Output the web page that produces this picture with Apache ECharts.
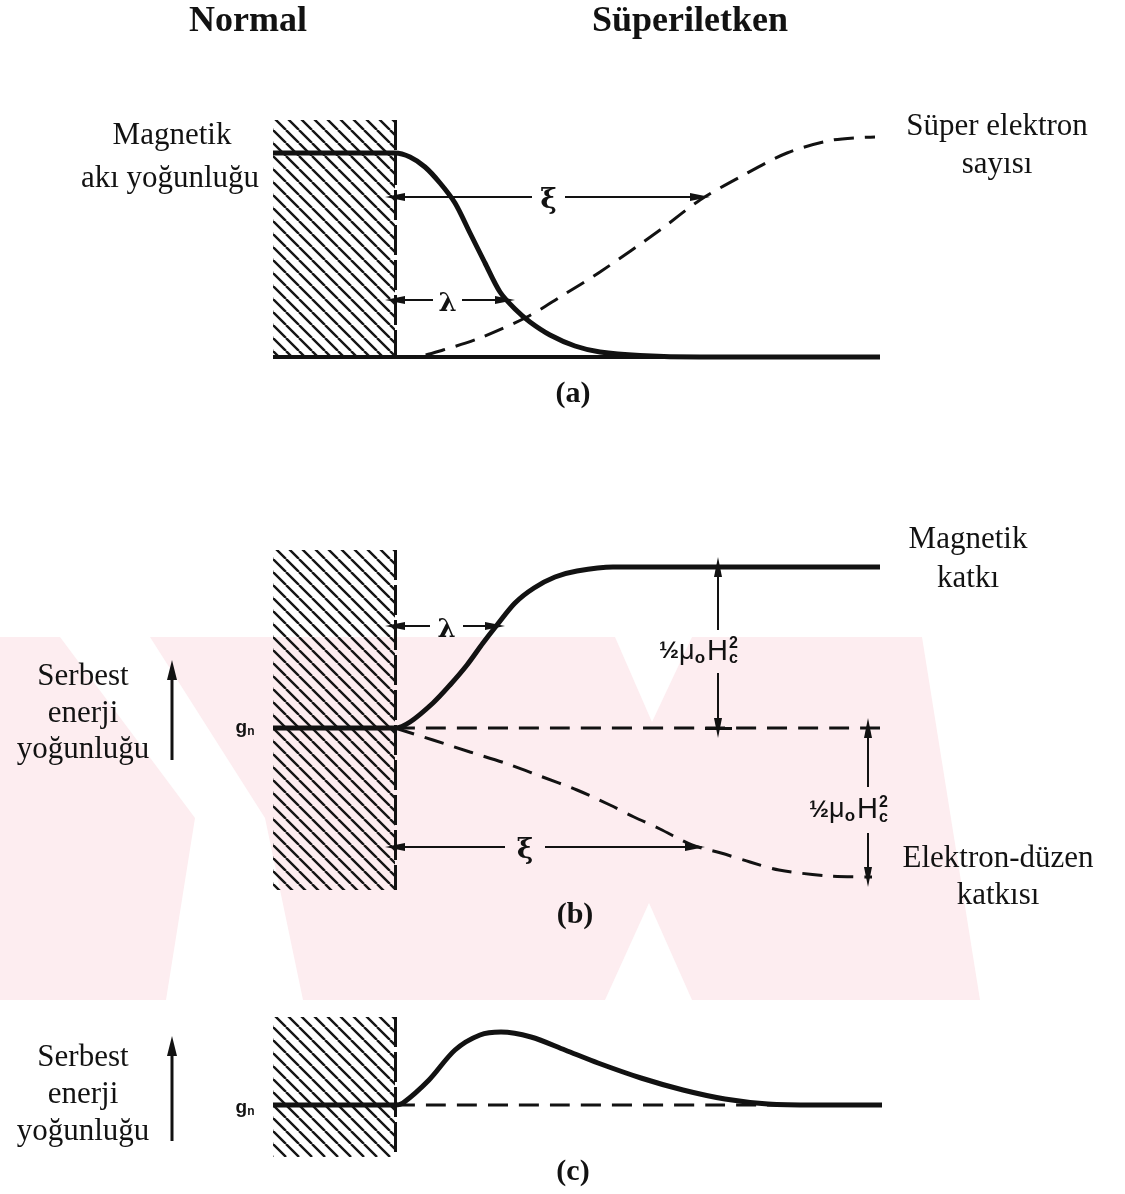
<!DOCTYPE html>
<html><head><meta charset="utf-8">
<script src="https://cdn.jsdelivr.net/npm/echarts@6/dist/echarts.min.js"></script>
<style>html,body{margin:0;padding:0;background:#fff}#c{width:1125px;height:1194px}</style>
</head><body><div id="c"></div>
<script>
// ---------- DATA (x: distance from the N/S interface, y: quantity, arbitrary units) ----------
// panel (a)
const fluxX  = [-1.22, 0, 0.15, 0.30, 0.45, 0.60, 0.75, 0.90, 1.05, 1.20, 1.35, 1.55, 1.80, 2.05, 2.45, 3.05, 4.85];
const fluxY  = [2.04, 2.04, 2.00, 1.90, 1.74, 1.54, 1.24, 0.94, 0.65, 0.48, 0.35, 0.22, 0.11, 0.05, 0.015, 0, 0];
const superX = [0, 0.25, 0.48, 0.85, 1.32, 1.65, 2.05, 2.65, 3.05, 3.45, 3.92, 4.38, 4.80];
const superY = [0, 0.01, 0.07, 0.19, 0.40, 0.60, 0.85, 1.27, 1.57, 1.80, 2.04, 2.17, 2.20];
// panel (b)
const magX = [-1.22, 0, 0.15, 0.38, 0.55, 0.72, 0.88, 1.02, 1.20, 1.39, 1.60, 1.82, 2.18, 4.85];
const magY = [0, 0, 0.06, 0.25, 0.43, 0.63, 0.85, 1.03, 1.25, 1.40, 1.51, 1.57, 1.61, 1.61];
const elX  = [0, 0.38, 0.75, 1.10, 1.45, 1.82, 2.15, 2.39, 2.65, 2.97, 3.26, 3.55, 3.84, 4.34, 4.77];
const elY  = [0, -0.12, -0.24, -0.35, -0.48, -0.62, -0.77, -0.89, -1.01, -1.17, -1.25, -1.34, -1.42, -1.48, -1.49];
// panel (c)
const totX = [-1.22, 0, 0.08, 0.34, 0.60, 0.85, 1.06, 1.36, 1.70, 2.03, 2.46, 2.88, 3.30, 3.73, 4.20, 4.87];
const totY = [0, 0, 0.02, 0.25, 0.55, 0.70, 0.73, 0.68, 0.55, 0.42, 0.27, 0.15, 0.06, 0.01, 0, 0];
// normal-metal region extent [xLeft, xInterface, yTop, yBottom] per panel
const normalA = [-1.22, 0, 2.37, 0];
const normalB = [-1.22, 0, 1.78, -1.62];
const normalC = [-1.22, 0, 0.88, -0.52];
// length markers: [y, xEnd, gapStart, gapEnd]
const xiA     = [1.60, 3.05, 1.37, 1.70];
const lambdaA = [0.57, 1.10, 0.38, 0.67];
const lambdaB = [1.02, 1.00, 0.35, 0.68];
const xiB     = [-1.19, 3.00, 1.10, 1.50];
// energy gap markers: [x, yFrom, yTo, gapHigh, gapLow]
const hcTop = [3.23, 1.61, 0, 0.98, 0.55];
const hcBot = [4.73, 0, -1.49, -0.59, -1.05];
const xMin = -1.22, xMax = 4.85;

// ---------- helpers ----------
const zip = (a, b) => a.map((v, i) => [v, b[i]]);
function hatchPattern() {
  const s = 13, c = document.createElement('canvas'); c.width = s; c.height = s;
  const g = c.getContext('2d'); g.strokeStyle = '#151515'; g.lineWidth = 2.4;
  g.beginPath();
  for (const o of [-s, 0, s]) { g.moveTo(o, 0); g.lineTo(o + s, s); }
  g.stroke(); return c;
}
const HATCH = { image: hatchPattern(), repeat: 'repeat' };
const INK = '#121212';
const thin = { color: INK, width: 2, type: 'solid' };
const thick3 = { color: INK, width: 3, type: 'solid' };
function seg(x1, y1, x2, y2, s1, s2, st) {
  return [{ coord: [x1, y1], symbol: s1, lineStyle: st || thin }, { coord: [x2, y2], symbol: s2 }];
}
function hArrow(m) {
  return [seg(0, m[0], m[2], m[0], 'triangle', 'none'), seg(m[3], m[0], m[1], m[0], 'none', 'triangle')];
}
function vArrow(m) {
  const hi = Math.max(m[1], m[2]), lo = Math.min(m[1], m[2]);
  return [seg(m[0], m[3], m[0], hi, 'none', 'triangle'), seg(m[0], m[4], m[0], lo, 'none', 'triangle')];
}
function interface_(n) {
  return seg(n[1], n[2], n[1], n[3], 'none', 'none', { color: INK, width: 3, type: [30, 5] });
}
function helper(i, n, lines) {
  return {
    type: 'line', xAxisIndex: i, yAxisIndex: i, data: [], silent: true, clip: false,
    markArea: { silent: true, itemStyle: { color: HATCH, borderWidth: 0 },
      data: [[{ coord: [n[0], n[2]] }, { coord: [n[1], n[3]] }]] },
    markLine: { silent: true, animation: false, symbolSize: [8, 20], label: { show: false },
      data: [interface_(n)].concat(lines) }
  };
}
function curve(i, data, dashed, width) {
  return { type: 'line', xAxisIndex: i, yAxisIndex: i, data, showSymbol: false, symbol: 'none',
    smooth: 0.3, clip: false, silent: true, z: 3,
    lineStyle: { color: INK, width: width, type: dashed ? [20, 11] : 'solid', cap: 'butt' } };
}
const plain = { textBorderWidth: 0, textShadowBlur: 0, color: INK, opacity: 1 };
const greek = (v, txt, size) => ({ value: v, label: Object.assign({ show: true, position: 'inside', formatter: txt,
  fontFamily: 'DejaVu Serif', fontWeight: 'bold', fontSize: size, offset: [0, 4] }, plain) });
const richBase = { color: INK, textBorderWidth: 0, lineHeight: 30, fontFamily: 'Liberation Sans' };
const hcLabel = (x, y) => ([
  { value: [x, y], label: Object.assign({ show: true, position: 'inside', align: 'right', offset: [10, 0],
    formatter: '{fr|½}{mu|μ}{sb|o}{hh|H}',
    rich: { fr: Object.assign({ fontSize: 24, fontWeight: 'bold' }, richBase),
            mu: Object.assign({ fontSize: 27 }, richBase),
            sb: Object.assign({ fontSize: 17, fontWeight: 'bold', verticalAlign: 'bottom', padding: [0, 2, 0, 0] }, richBase),
            hh: Object.assign({ fontSize: 29 }, richBase) } }, plain) },
  { value: [x, y], label: Object.assign({ show: true, position: 'inside', align: 'left', offset: [11, 0],
    formatter: '2\nc', fontSize: 16, fontWeight: 'bold', fontFamily: 'Liberation Sans', lineHeight: 15 }, plain) }
]);
const labels = (i, data) => ({ type: 'scatter', xAxisIndex: i, yAxisIndex: i, symbolSize: 0, silent: true, z: 5,
  itemStyle: { opacity: 1, color: INK }, data });

// ---------- layout ----------
const grids = [
  { left: 273, top: 117, width: 607, height: 240 },
  { left: 273, top: 548, width: 607, height: 350 },
  { left: 273, top: 1005, width: 607, height: 160 }
];
const yRanges = [[0, 2.4], [-1.7, 1.8], [-0.6, 1.0]];

// ---------- text ----------
const serif = (size, bold) => (bold ? 'bold ' : '') + size + 'px "Liberation Serif"';
function T(text, x, y, font) {
  return { type: 'text', x, y, silent: true, z: 10,
    style: { text, fill: INK, font: font || serif(31), textAlign: 'center', textVerticalAlign: 'middle' } };
}
function G(x, y) {
  return { type: 'text', x, y, silent: true, z: 10, style: { text: '{g|g}{n|n}', textAlign: 'center', textVerticalAlign: 'middle',
    rich: { g: { font: 'bold 19px "Liberation Sans"', fill: INK, lineHeight: 20 },
            n: { font: 'bold 12px "Liberation Sans"', fill: INK, lineHeight: 20, verticalAlign: 'bottom', padding: [6, 0, 0, 0] } } } };
}
function upArrow(x, yb, yt) {
  return [
    { type: 'line', silent: true, shape: { x1: x, y1: yb, x2: x, y2: yt + 16 }, style: { stroke: INK, lineWidth: 3 } },
    { type: 'polygon', silent: true, shape: { points: [[x, yt], [x - 5, yt + 20], [x + 5, yt + 20]] }, style: { fill: INK } }
  ];
}
const PINK = '#fdedf0';
const watermark = [
  { type: 'polygon', silent: true, z: -5, shape: { points: [[0, 637], [922, 637], [980, 1000], [0, 1000]] }, style: { fill: PINK } },
  { type: 'polygon', silent: true, z: -4, shape: { points: [[60, 637], [150, 637], [265, 818], [303, 1000], [166, 1000], [195, 818]] }, style: { fill: '#fff' } },
  { type: 'polygon', silent: true, z: -4, shape: { points: [[605, 1000], [649, 903], [692, 1000]] }, style: { fill: '#fff' } },
  { type: 'polygon', silent: true, z: -4, shape: { points: [[615, 637], [692, 637], [652, 722]] }, style: { fill: '#fff' } }
];

const graphic = watermark.concat([
  T('Normal', 248, 22, serif(36, true)),
  T('Süperiletken', 690, 22, serif(36, true)),
  T('Magnetik', 172, 136), T('akı yoğunluğu', 170, 179),
  T('Süper elektron', 997, 127), T('sayısı', 997, 165),
  T('(a)', 573, 394, serif(30, true)),
  T('Magnetik', 968, 540), T('katkı', 968, 579),
  T('Serbest', 83, 677), T('enerji', 83, 714), T('yoğunluğu', 83, 750),
  G(245, 728),
  T('Elektron-düzen', 998, 859), T('katkısı', 998, 896),
  T('(b)', 575, 915, serif(30, true)),
  T('Serbest', 83, 1058), T('enerji', 83, 1095), T('yoğunluğu', 83, 1132),
  G(245, 1108),
  T('(c)', 573, 1172, serif(30, true))
]).concat(upArrow(172, 760, 660)).concat(upArrow(172, 1141, 1036));

const option = {
  animation: false,
  backgroundColor: '#fff',
  grid: grids,
  xAxis: grids.map((g, i) => ({ type: 'value', gridIndex: i, min: xMin, max: xMax, show: false })),
  yAxis: yRanges.map((r, i) => ({ type: 'value', gridIndex: i, min: r[0], max: r[1], show: false })),
  graphic,
  series: [
    // (a)
    helper(0, normalA, hArrow(xiA).concat(hArrow(lambdaA))),
    curve(0, [[xMin, 0], [xMax, 0]], false, 4),
    curve(0, zip(superX, superY), true, 3),
    curve(0, zip(fluxX, fluxY), false, 5),
    labels(0, [greek([(xiA[2] + xiA[3]) / 2, xiA[0]], 'ξ', 28), greek([(lambdaA[2] + lambdaA[3]) / 2, lambdaA[0]], 'λ', 26)]),
    // (b)
    helper(1, normalB, hArrow(lambdaB).concat(hArrow(xiB)).concat(vArrow(hcTop)).concat(vArrow(hcBot)).concat([
      seg(hcTop[0] - 0.13, 0, hcTop[0] + 0.14, 0, 'none', 'none', thick3),
      seg(hcBot[0] - 0.18, hcBot[1], xMax + 0.02, hcBot[1], 'none', 'none', thick3),
      seg(hcBot[0] - 0.18, hcBot[2], xMax + 0.02, hcBot[2], 'none', 'none', thick3)
    ])),
    curve(1, [[0, 0], [xMax, 0]], true, 3),
    curve(1, zip(elX, elY), true, 3),
    curve(1, zip(magX, magY), false, 5),
    labels(1, [greek([(lambdaB[2] + lambdaB[3]) / 2, lambdaB[0]], 'λ', 26), greek([(xiB[2] + xiB[3]) / 2, xiB[0]], 'ξ', 28)]
      .concat(hcLabel(hcTop[0], (hcTop[3] + hcTop[4]) / 2)).concat(hcLabel(hcBot[0], (hcBot[3] + hcBot[4]) / 2))),
    // (c)
    helper(2, normalC, []),
    curve(2, [[0, 0], [xMax, 0]], true, 3),
    curve(2, zip(totX, totY), false, 5)
  ]
};
const chart = echarts.init(document.getElementById('c'), null, { renderer: 'canvas', width: 1125, height: 1194 });
chart.setOption(option);
</script>
</body></html>
